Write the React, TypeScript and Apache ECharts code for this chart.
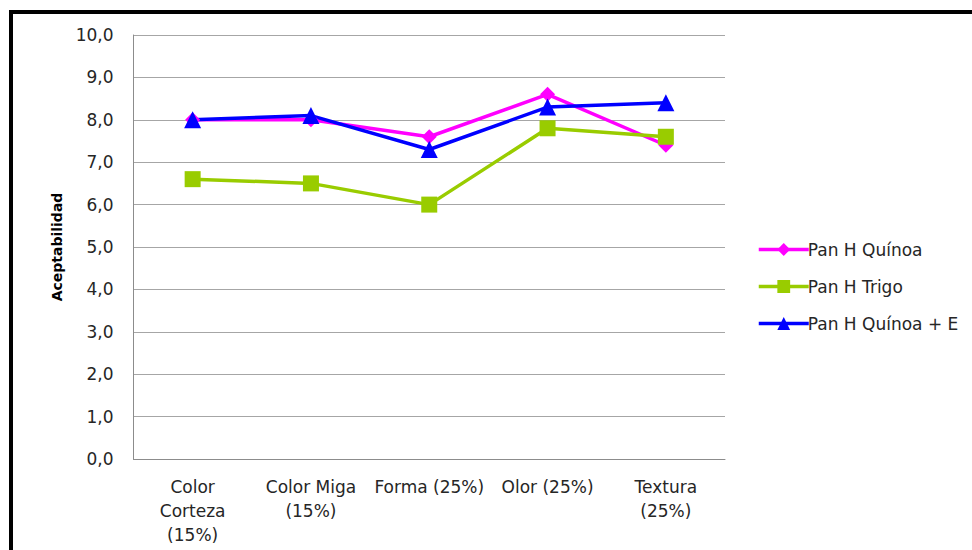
import React, { useEffect, useRef } from "react";
import * as echarts from "echarts";

const categories = ["Color\nCorteza\n(15%)", "Color Miga\n(15%)", "Forma (25%)", "Olor (25%)", "Textura\n(25%)"];
const panQuinoa = [8.0, 8.0, 7.6, 8.6, 7.4];
const panTrigo = [6.6, 6.5, 6.0, 7.8, 7.6];
const panQuinoaE = [8.0, 8.1, 7.3, 8.3, 8.4];
const seriesNames = ["Pan H Quínoa", "Pan H Trigo", "Pan H Quínoa + E"];

export default function App() {
  const ref = useRef<HTMLDivElement>(null);
  useEffect(() => {
    document.body.style.margin = "0";
    const chart = echarts.init(ref.current!, null, { renderer: "svg" });
    const font = "DejaVu Sans";
    chart.setOption({
      animation: false,
      backgroundColor: "#ffffff",
      textStyle: { fontFamily: font },
      graphic: [
        {
          type: "rect",
          shape: { x: 11, y: 12, width: 1000, height: 600 },
          style: { fill: "none", stroke: "#000000", lineWidth: 4 },
          silent: true,
        },
      ],
      grid: { left: 133.5, top: 35, right: 247, bottom: 91 },
      legend: {
        orient: "vertical",
        left: 752,
        top: 236,
        itemWidth: 50,
        itemHeight: 16,
        itemGap: 20,
        lineStyle: { width: 3.5 },
        textStyle: { fontFamily: font, fontSize: 17, color: "#262626", padding: [0, 0, 0, -6] },
        data: seriesNames,
      },
      xAxis: {
        type: "category",
        data: categories,
        boundaryGap: true,
        axisLine: { show: true, lineStyle: { color: "#8c8c8c", width: 1 } },
        axisTick: { show: false },
        axisLabel: {
          interval: 0,
          margin: 16,
          fontFamily: font,
          fontSize: 17,
          color: "#262626",
          lineHeight: 24,
          align: "center",
        },
        splitLine: { show: false },
      },
      yAxis: {
        type: "value",
        min: 0,
        max: 10,
        interval: 1,
        name: "Aceptabilidad",
        nameLocation: "middle",
        nameGap: 70,
        nameRotate: 90,
        nameTextStyle: { fontFamily: font, fontSize: 14, fontWeight: "bold", color: "#000000" },
        axisLine: { show: true, lineStyle: { color: "#8c8c8c", width: 1 } },
        axisTick: { show: false },
        axisLabel: {
          margin: 20,
          fontFamily: font,
          fontSize: 17,
          color: "#262626",
          formatter: (v: number) => v.toFixed(1).replace(".", ","),
        },
        splitLine: { show: true, lineStyle: { color: "#a6a6a6", width: 1 } },
      },
      series: [
        {
          name: seriesNames[0],
          type: "line",
          data: panQuinoa,
          symbol: "diamond",
          symbolSize: 15,
          lineStyle: { color: "#ff00ff", width: 3.5 },
          itemStyle: { color: "#ff00ff" },
        },
        {
          name: seriesNames[1],
          type: "line",
          data: panTrigo,
          symbol: "rect",
          symbolSize: 16,
          lineStyle: { color: "#99cc00", width: 3.5 },
          itemStyle: { color: "#99cc00" },
        },
        {
          name: seriesNames[2],
          type: "line",
          data: panQuinoaE,
          symbol: "triangle",
          symbolSize: 17,
          lineStyle: { color: "#0000ff", width: 3.5 },
          itemStyle: { color: "#0000ff" },
        },
      ],
    });
    return () => chart.dispose();
  }, []);
  return <div ref={ref} style={{ width: 972, height: 550 }} />;
}
